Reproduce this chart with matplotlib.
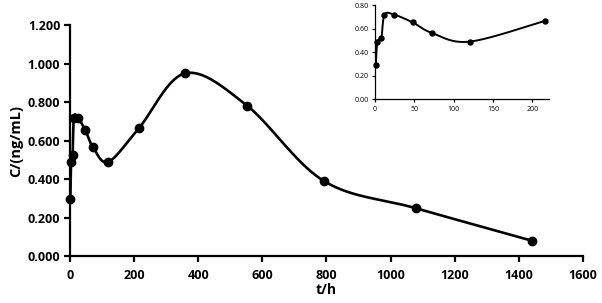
import numpy as np
import matplotlib
matplotlib.use("Agg")
import matplotlib.pyplot as plt

# sampling times (h) and concentrations (ng/mL)
t = [1, 3, 8, 12, 24, 48, 72, 120, 216, 360, 552, 792, 1080, 1440]
c = [0.295, 0.489, 0.523, 0.718, 0.720, 0.653, 0.565, 0.490, 0.667,
     0.950, 0.782, 0.390, 0.248, 0.080]

x_ticks = [0, 200, 400, 600, 800, 1000, 1200, 1400, 1600]
y_ticks = [0.0, 0.2, 0.4, 0.6, 0.8, 1.0, 1.2]
inset_x_ticks = [0, 50, 100, 150, 200]
inset_y_ticks = [0.0, 0.2, 0.4, 0.6, 0.8]


def smooth_line(ax, x, y, tension=1 / 6.0, n=60):
    # Catmull-Rom style bezier smoothing done in screen space (like a spreadsheet smoothed line)
    pts = ax.transData.transform(np.column_stack([x, y]))
    out = []
    for i in range(len(pts) - 1):
        p0 = pts[i - 1] if i > 0 else pts[i]
        p1 = pts[i]
        p2 = pts[i + 1]
        p3 = pts[i + 2] if i + 2 < len(pts) else pts[i + 1]
        c1 = p1 + (p2 - p0) * tension
        c2 = p2 - (p3 - p1) * tension
        s = np.linspace(0, 1, n)[:, None]
        seg = ((1 - s)**3 * p1 + 3 * (1 - s)**2 * s * c1
               + 3 * (1 - s) * s**2 * c2 + s**3 * p2)
        out.append(seg)
    out = np.vstack(out)
    data = ax.transData.inverted().transform(out)
    return data[:, 0], data[:, 1]


plt.rcParams['font.family'] = ['Open Sans', 'DejaVu Sans']

fig = plt.figure(figsize=(6.02, 3.03), dpi=100)

# ==============================================
# MAIN PLOT
# ==============================================
ax = fig.add_axes([0.1163, 0.155, 0.852, 0.762])
ax.set_xlim(0, 1600)
ax.set_ylim(0, 1.2)
xs, ys = smooth_line(ax, t, c)
ax.plot(xs, ys, color='black', lw=1.9, clip_on=False)
ax.plot(t, c, 'o', color='black', ms=6, clip_on=False)
ax.set_xticks(x_ticks)
ax.set_yticks(y_ticks)
ax.set_yticklabels(['%.3f' % v for v in y_ticks])
for s in ['top', 'right']:
    ax.spines[s].set_visible(False)
for s in ['left', 'bottom']:
    ax.spines[s].set_linewidth(1.6)
ax.tick_params(width=1.6, length=4, labelsize=9, pad=3)
ax.tick_params(axis='x', pad=5)
for lab in ax.get_xticklabels() + ax.get_yticklabels():
    lab.set_fontweight('bold')
ax.set_xlabel('t/h', fontsize=10, fontweight='bold', labelpad=1)
ax.set_ylabel('C/(ng/mL)', fontsize=10.5, fontweight='bold', labelpad=3)

# ==============================================
# INSET (first 216 h)
# ==============================================
n = 9
ins = fig.add_axes([0.623, 0.672, 0.289, 0.311])
ins.set_xlim(0, 221)
ins.set_ylim(0, 0.8)
xi, yi = smooth_line(ins, t[:n], c[:n])
ins.plot(xi, yi, color='black', lw=1.4, clip_on=False)
ins.plot(t[:n], c[:n], 'o', color='black', ms=3.6, clip_on=False)
ins.set_xticks(inset_x_ticks)
ins.set_yticks(inset_y_ticks)
ins.set_yticklabels(['%.2f' % v for v in inset_y_ticks])
for s in ['top', 'right']:
    ins.spines[s].set_visible(False)
for s in ['left', 'bottom']:
    ins.spines[s].set_linewidth(0.9)
ins.tick_params(width=0.9, length=2.5, labelsize=5, pad=2)

plt.savefig("out.png", dpi=100)
plt.close()
